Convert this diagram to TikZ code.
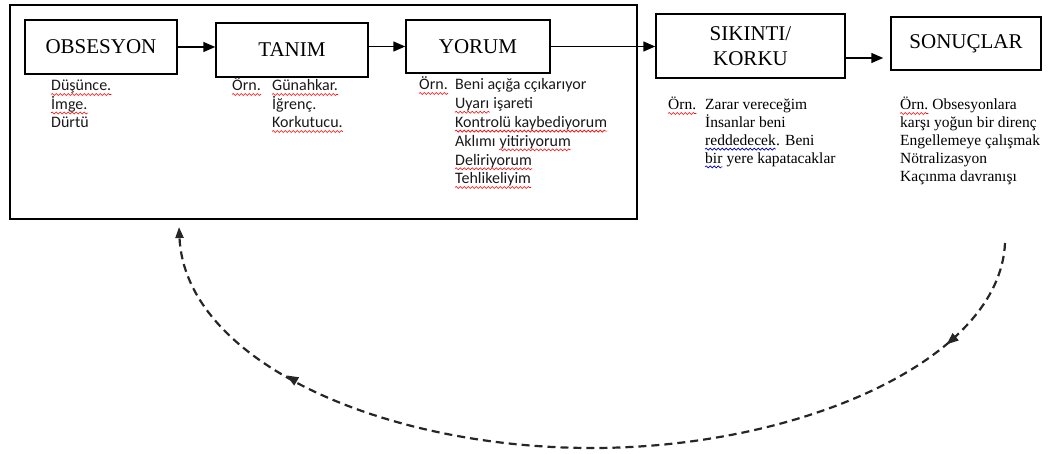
\documentclass[tikz,border=0pt]{standalone}
\usepackage{fontspec}
\setmainfont{Liberation Serif}
\newfontfamily\sansf{Carlito}
\usetikzlibrary{arrows.meta,decorations.markings,decorations.pathmorphing}
\tikzset{
  box/.style={draw, line width=1.5pt, inner sep=0pt, align=center, font=\fontsize{21}{25}\selectfont},
  sub/.style={anchor=base west, inner sep=0pt, font=\sansf\fontsize{16}{18}\selectfont, text=black!90},
  ser/.style={anchor=base west, inner sep=0pt, font=\fontsize{15.5}{18}\selectfont},
  conn/.style={line width=1.5pt, -{Triangle[length=12pt,width=10pt]}},
  rsq/.style={red, line width=0.6pt, decorate, decoration={snake, segment length=4pt, amplitude=1pt}},
  bsq/.style={rsq, blue!70!black},
  loopline/.style={line width=2.2pt, black!85, dash pattern=on 8pt off 5pt,
    -{Triangle[length=11pt,width=8pt]},
    postaction={decorate},
    decoration={markings,
      mark=at position 0.12 with {\arrow{Triangle[length=12pt,width=9pt]}},
      mark=at position 0.81 with {\arrow{Triangle[length=12pt,width=9pt]}}}}
}
\newcommand\wavy[2][rsq]{\draw[#1] ([yshift=-3.5pt]#2.base west) -- ([yshift=-3.5pt]#2.base east);}
\begin{document}
\begin{tikzpicture}[x=1pt,y=-1pt]
\useasboundingbox (0,0) rectangle (1050,454);
% outer frame
\draw[line width=1.5pt] (10,5) rectangle (637,219);
% boxes
\node[box, minimum width=152pt, minimum height=54pt] (obs) at (101,47) {OBSESYON};
\node[box, minimum width=152pt, minimum height=54pt] (tan) at (292,50) {TANIM};
\node[box, minimum width=144pt, minimum height=53pt] (yor) at (478,46.5) {YORUM};
\node[box, minimum width=189pt, minimum height=64pt] (sik) at (750.5,46) {SIKINTI/\\KORKU};
\node[box, minimum width=150pt, minimum height=53pt] (son) at (966,43.5) {SONUÇLAR};
% connectors
\coordinate (a1) at (0,47);
\coordinate (a2) at (0,58);
\draw[conn] (obs.east |- a1) -- (tan.west |- a1);
\draw[conn] (tan.east |- yor.west) -- (yor.west);
\draw[conn] (yor.east) -- (sik.west |- yor.east);
\draw[conn, shorten >=7pt] (sik.east |- a2) -- (son.west |- a2);
% OBSESYON texts
\node[sub] (o1) at (51,91) {Düşünce.};
\node[sub] (o2) at (51,109.5) {İmge.};
\node[sub] (o3) at (51,128) {Dürtü};
% TANIM texts
\node[sub] (t0) at (232,91) {Örn.};
\node[sub] (t1) at (272,91) {Günahkar.};
\node[sub] (t2) at (272,109.5) {İğrenç.};
\node[sub] (t3) at (272,128) {Korkutucu.};
% YORUM texts
\node[sub] (y0) at (419,90) {Örn.};
\node[sub] (y1) at (455,90) {Beni açığa cçıkarıyor};
\node[sub] (y2) at (455,108.8) {Uyarı};
\node[sub, xshift=3.6pt] (y2b) at (y2.base east) {işareti};
\node[sub] (y3) at (455,127.6) {Kontrolü kaybediyorum};
\node[sub] (y4) at (455,146.4) {Aklımı};
\node[sub, xshift=3.6pt] (y4b) at (y4.base east) {yitiriyorum};
\node[sub] (y5) at (455,165.2) {Deliriyorum};
\node[sub] (y6) at (455,184) {Tehlikeliyim};
% SIKINTI texts
\node[ser] (s0) at (668,110) {Örn.};
\node[ser] (s1) at (705,110) {Zarar vereceğim};
\node[ser] (s2) at (705,127.8) {İnsanlar beni};
\node[ser] (s3) at (705,145.6) {reddedecek};
\node[ser] (s3b) at (s3.base east) {. Beni};
\node[ser] (s4) at (705,163.4) {bir};
\node[ser, xshift=3.9pt] (s4b) at (s4.base east) {yere kapatacaklar};
% SONUCLAR texts
\node[ser] (r1) at (900,110) {Örn.};
\node[ser, xshift=3.9pt] (r1b) at (r1.base east) {Obsesyonlara};
\node[ser] (r2) at (900,127.8) {karşı yoğun bir direnç};
\node[ser] (r3) at (900,145.6) {Engellemeye çalışmak};
\node[ser] (r4) at (900,163.4) {Nötralizasyon};
\node[ser] (r5) at (900,181.2) {Kaçınma davranışı};
% spell-check underlines
\wavy{o1} \wavy{o2} \wavy{t0} \wavy{t1} \wavy{t3}
\wavy{y0} \wavy{y2} \wavy{y3} \wavy{y4b} \wavy{y5} \wavy{y6}
\wavy{s0} \wavy[bsq]{s3} \wavy[bsq]{s4} \wavy{r1}
% feedback loop
\coordinate (cs) at (1005,243);
\coordinate (cb) at (592,448);
\coordinate (ce) at (179,227);
\draw[loopline] (cs) .. controls (1000,360) and (800,448) .. (cb)
  .. controls (380,448) and (185,360) .. (ce);
\end{tikzpicture}
\end{document}
